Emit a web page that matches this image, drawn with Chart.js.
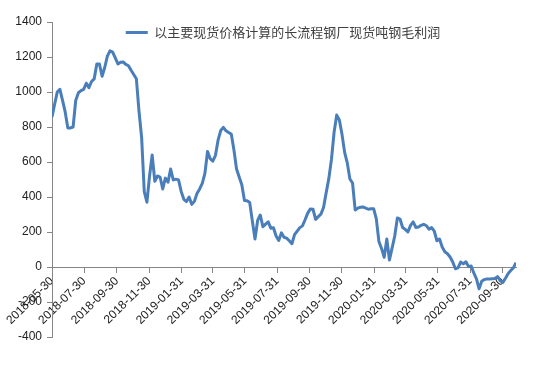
<!DOCTYPE html>
<html>
<head>
<meta charset="utf-8">
<script src="https://cdn.jsdelivr.net/npm/chart.js@4.4.0/dist/chart.umd.min.js"></script>
<style>
  html, body { margin: 0; padding: 0; background: #fff; }
  #wrap { position: relative; width: 550px; height: 369px; }
</style>
</head>
<body>
<div id="wrap"><canvas id="chart"></canvas></div>
<script>
const seriesName = '以主要现货价格计算的长流程钢厂现货吨钢毛利润';
const startDate = '2018-05-30';
const stepDays = 5;   // one reading every 5 days
const profit = [
  857, 930, 1000, 1015, 952, 886, 795, 795, 800, 952,
  995, 1008, 1015, 1050, 1025, 1060, 1075, 1160, 1160, 1090,
  1140, 1205, 1235, 1228, 1195, 1160, 1170, 1172, 1158, 1150,
  1124, 1100, 1076, 890, 740, 430, 370, 520, 640, 490,
  520, 514, 446, 508, 485, 560, 498, 502, 498, 432,
  387, 374, 400, 358, 375, 420, 446, 478, 535, 660,
  619, 605, 638, 725, 780, 798, 778, 768, 760, 670,
  560, 514, 470, 380, 378, 368, 262, 160, 266, 297,
  230, 245, 258, 222, 224, 177, 152, 195, 170, 165,
  150, 133, 185, 205, 225, 235, 270, 308, 332, 330,
  272, 288, 302, 340, 425, 505, 615, 770, 868, 840,
  758, 655, 595, 503, 480, 326, 336, 342, 343, 337,
  330, 333, 333, 276, 146, 106, 55, 160, 40, 108,
  177, 280, 274, 226, 215, 200, 238, 258, 226, 228,
  238, 244, 236, 216, 225, 205, 150, 160, 114, 87,
  76, 57, 29, -10, -5, 28, 18, 30, 2, 6,
  -34, -68, -125, -82, -72, -68, -68, -67, -66, -55,
  -78, -88, -64, -38, -20, -5, 25
];
const tickDates = [
  '2018-05-30', '2018-07-30', '2018-09-30', '2018-11-30', '2019-01-31',
  '2019-03-31', '2019-05-31', '2019-07-31', '2019-09-30', '2019-11-30',
  '2020-01-31', '2020-03-31', '2020-05-31', '2020-07-31', '2020-09-30'
];
const yMin = -400, yMax = 1400, yStep = 200;

const DAY = 86400000;
const dayOf = (s) => Math.round((Date.parse(s) - Date.parse(startDate)) / DAY);
const tickDays = tickDates.map(dayOf);
const points = profit.map((v, i) => ({ x: i * stepDays, y: v }));
const lastDay = (profit.length - 1) * stepDays;

const axisGray = '#868686';
const tickFont = { family: '"Liberation Sans", Arial, sans-serif', size: 12 };

// legend sits inside the plot in the original, so move it down after layout
const legendShift = {
  id: 'legendShift',
  afterLayout(chart) {
    const lg = chart.legend;
    lg.left += 25; lg.right += 25;
    lg.top += 14; lg.bottom = lg.top + 40;
  }
};

new Chart(document.getElementById('chart'), {
  type: 'line',
  data: {
    datasets: [{
      label: seriesName,
      data: points,
      borderColor: '#4a7ebb',
      backgroundColor: '#4a7ebb',
      borderWidth: 3,
      borderJoinStyle: 'round',
      pointRadius: 0,
      tension: 0,
      fill: false
    }]
  },
  options: {
    responsive: true,
    maintainAspectRatio: false,
    animation: false,
    layout: { padding: { left: 0, right: 34, top: 2, bottom: 32 } },
    plugins: {
      tooltip: { enabled: false },
      legend: {
        position: 'top',
        maxHeight: 20,
        labels: {
          usePointStyle: true,
          pointStyle: 'line',
          pointStyleWidth: 22,
          padding: 10,
          color: '#404040',
          font: { family: '"Noto Sans CJK SC", sans-serif', size: 13 }
        }
      }
    },
    scales: {
      x: {
        type: 'linear',
        position: { y: 0 },
        min: 0,
        max: lastDay,
        afterBuildTicks: (scale) => { scale.ticks = tickDays.map(v => ({ value: v })); },
        afterFit: (scale) => { scale.height = 4; },
        grid: { drawOnChartArea: false, drawTicks: true, tickLength: 5, color: axisGray },
        border: { display: true, color: axisGray, width: 1 },
        ticks: {
          autoSkip: false,
          minRotation: 45,
          maxRotation: 45,
          padding: 2,
          color: '#222',
          font: tickFont,
          callback: (v) => {
            const k = tickDays.indexOf(v);
            return k >= 0 ? tickDates[k] : null;
          }
        }
      },
      y: {
        min: yMin,
        max: yMax,
        afterFit: (scale) => { scale.width = 52; },
        grid: { drawOnChartArea: false, drawTicks: true, tickLength: 5, color: axisGray },
        border: { display: true, color: axisGray, width: 1 },
        ticks: { stepSize: yStep, padding: 5, color: '#222', font: tickFont, callback: (v) => String(v) }
      }
    }
  },
  plugins: [legendShift]
});
</script>
</body>
</html>
